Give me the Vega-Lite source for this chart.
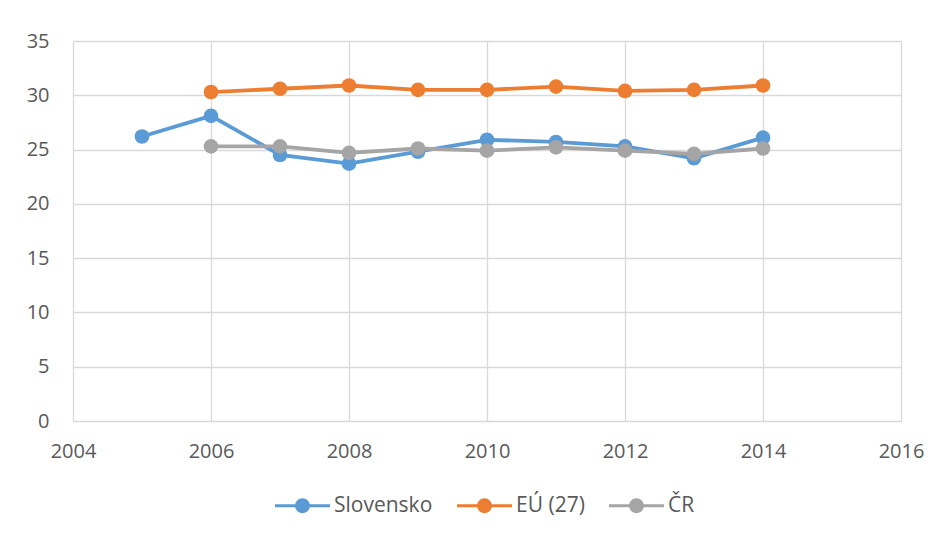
{
  "$schema": "https://vega.github.io/schema/vega-lite/v6.json",
  "width": 828,
  "height": 380,
  "autosize": {"type": "none"},
  "padding": {"left": 73, "top": 41, "right": 43, "bottom": 112},
  "background": "white",
  "config": {
    "view": {"stroke": null},
    "font": "Open Sans",
    "axis": {"labelFont": "Open Sans", "labelFontSize": 20, "labelColor": "#595959", "gridColor": "#d9d9d9", "gridWidth": 1.3, "domain": false, "ticks": false}
  },
  "data": {
    "values": [
      {"year": 2005, "series": "Slovensko", "value": 26.2},
      {"year": 2006, "series": "Slovensko", "value": 28.1},
      {"year": 2007, "series": "Slovensko", "value": 24.5},
      {"year": 2008, "series": "Slovensko", "value": 23.7},
      {"year": 2009, "series": "Slovensko", "value": 24.8},
      {"year": 2010, "series": "Slovensko", "value": 25.9},
      {"year": 2011, "series": "Slovensko", "value": 25.7},
      {"year": 2012, "series": "Slovensko", "value": 25.3},
      {"year": 2013, "series": "Slovensko", "value": 24.2},
      {"year": 2014, "series": "Slovensko", "value": 26.1},
      {"year": 2006, "series": "EÚ (27)", "value": 30.3},
      {"year": 2007, "series": "EÚ (27)", "value": 30.6},
      {"year": 2008, "series": "EÚ (27)", "value": 30.9},
      {"year": 2009, "series": "EÚ (27)", "value": 30.5},
      {"year": 2010, "series": "EÚ (27)", "value": 30.5},
      {"year": 2011, "series": "EÚ (27)", "value": 30.8},
      {"year": 2012, "series": "EÚ (27)", "value": 30.4},
      {"year": 2013, "series": "EÚ (27)", "value": 30.5},
      {"year": 2014, "series": "EÚ (27)", "value": 30.9},
      {"year": 2006, "series": "ČR", "value": 25.3},
      {"year": 2007, "series": "ČR", "value": 25.3},
      {"year": 2008, "series": "ČR", "value": 24.7},
      {"year": 2009, "series": "ČR", "value": 25.1},
      {"year": 2010, "series": "ČR", "value": 24.9},
      {"year": 2011, "series": "ČR", "value": 25.2},
      {"year": 2012, "series": "ČR", "value": 24.9},
      {"year": 2013, "series": "ČR", "value": 24.6},
      {"year": 2014, "series": "ČR", "value": 25.1}
    ]
  },
  "encoding": {
    "x": {"field": "year", "type": "quantitative", "scale": {"domain": [2004, 2016], "nice": false, "zero": false},
      "axis": {"title": null, "values": [2004, 2006, 2008, 2010, 2012, 2014, 2016], "format": "d", "labelPadding": 20, "labelFlush": false}},
    "y": {"field": "value", "type": "quantitative", "scale": {"domain": [0, 35], "nice": false},
      "axis": {"title": null, "values": [0, 5, 10, 15, 20, 25, 30, 35], "labelPadding": 24}},
    "color": {"field": "series", "type": "nominal",
      "scale": {"domain": ["Slovensko", "EÚ (27)", "ČR"], "range": ["#5B9BD5", "#ED7D31", "#A5A5A5"]},
      "legend": {"title": null, "orient": "none", "direction": "horizontal", "legendX": 202, "legendY": 437,
        "labelFont": "Open Sans", "labelFontSize": 21, "labelColor": "#595959", "columnPadding": 24, "labelOffset": 4,
        "symbolType": "M-1,-0.055H1V0.055H-1Z M0.27,0 A0.27,0.27 0 1,1 -0.27,0 A0.27,0.27 0 1,1 0.27,0Z",
        "symbolSize": 3025, "symbolStrokeWidth": 0,
        "encode": {"symbols": {"update": {"fill": {"scale": "color", "field": "value"}, "fillOpacity": {"value": 1}}}}}
    }
  },
  "layer": [
    {"mark": {"type": "line", "strokeWidth": 3.8}},
    {"mark": {"type": "point", "filled": true, "size": 215, "opacity": 1}}
  ]
}
